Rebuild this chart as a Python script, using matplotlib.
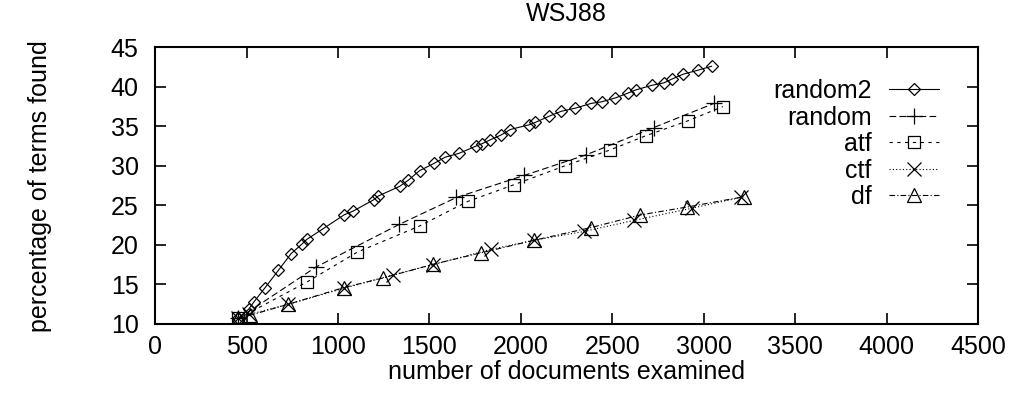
import numpy as np
import matplotlib.pyplot as plt

plt.rcParams['font.family'] = ['Liberation Sans', 'DejaVu Sans']

# dados
random2_x = [455, 512, 540, 601, 674, 743, 802, 829, 915, 1033, 1084, 1194, 1221,
             1336, 1385, 1446, 1524, 1586, 1663, 1754, 1787, 1833, 1891, 1942,
             2046, 2079, 2156, 2220, 2298, 2384, 2441, 2517, 2585, 2627, 2718,
             2782, 2828, 2888, 2968, 3043]
random2_y = [10.7, 11.9, 12.8, 14.6, 16.8, 18.9, 20.1, 20.7, 22.0, 23.8, 24.3, 25.7, 26.2,
             27.4, 28.2, 29.4, 30.3, 31.1, 31.6, 32.5, 32.8, 33.3, 33.9, 34.6,
             35.2, 35.5, 36.3, 36.9, 37.3, 37.9, 38.1, 38.6, 39.2, 39.6, 40.2,
             40.5, 41.0, 41.6, 42.1, 42.6]

random_x = [455, 879, 1335, 1647, 2019, 2357, 2727, 3056]
random_y = [10.7, 17.2, 22.6, 26.0, 28.8, 31.4, 34.85, 37.9]

atf_x = [455, 829, 1106, 1446, 1709, 1960, 2240, 2486, 2682, 2913, 3105]
atf_y = [10.7, 15.3, 19.1, 22.4, 25.5, 27.6, 30.0, 32.0, 33.8, 35.7, 37.5]

ctf_x = [455, 512, 728, 1030, 1298, 1519, 1837, 2074, 2344, 2618, 2937, 3202]
ctf_y = [10.7, 11.2, 12.5, 14.5, 16.2, 17.5, 19.45, 20.6, 21.7, 23.1, 24.65, 26.0]

df_x = [455, 519, 728, 1030, 1243, 1519, 1782, 2074, 2384, 2654, 2910, 3220]
df_y = [10.7, 11.1, 12.5, 14.6, 15.8, 17.55, 19.0, 20.6, 22.2, 23.8, 24.8, 26.1]

fs = 18

fig = plt.figure(figsize=(10.12, 3.94), dpi=100)
ax = fig.add_axes([0.1534, 0.1777, 0.8130, 0.7023])

estilo = dict(color='black', lw=0.8, mfc='none', mec='black', mew=0.9)
ax.plot(random2_x, random2_y, ls='-', marker='D', ms=6.5, label='random2', **estilo)
ax.plot(random_x, random_y, ls=(0, (6, 3)), marker='+', ms=12, label='random', **estilo)
ax.plot(atf_x, atf_y, ls=(0, (3, 4)), marker='s', ms=9, label='atf', **estilo)
ax.plot(ctf_x, ctf_y, ls=(0, (1, 2)), marker='x', ms=10, label='ctf', **estilo)
ax.plot(df_x, df_y, ls=(0, (5, 2, 1, 2)), marker='^', ms=10, label='df', **estilo)

ax.set_xlim(0, 4500)
ax.set_ylim(10, 45)
ax.set_xticks(np.arange(0, 4501, 500))
ax.set_yticks(np.arange(10, 46, 5))
ax.tick_params(direction='in', length=8, width=1.2, top=True, right=True,
               labelsize=fs)
ax.tick_params(axis='x', pad=8)
ax.tick_params(axis='y', pad=12)
for s in ax.spines.values():
    s.set_linewidth(1.5)

ax.set_title('WSJ88', fontsize=fs, pad=19)
ax.set_xlabel('number of documents examined', fontsize=fs, labelpad=1)
ax.set_ylabel('percentage of terms found', fontsize=fs, labelpad=42)

ax.legend(loc='upper right', bbox_to_anchor=(0.968, 0.93), frameon=False,
          markerfirst=False, fontsize=fs, handlelength=2.0, handletextpad=0.7,
          labelspacing=0.1, borderpad=0, numpoints=1)

fig.savefig('out.png', dpi=100)
